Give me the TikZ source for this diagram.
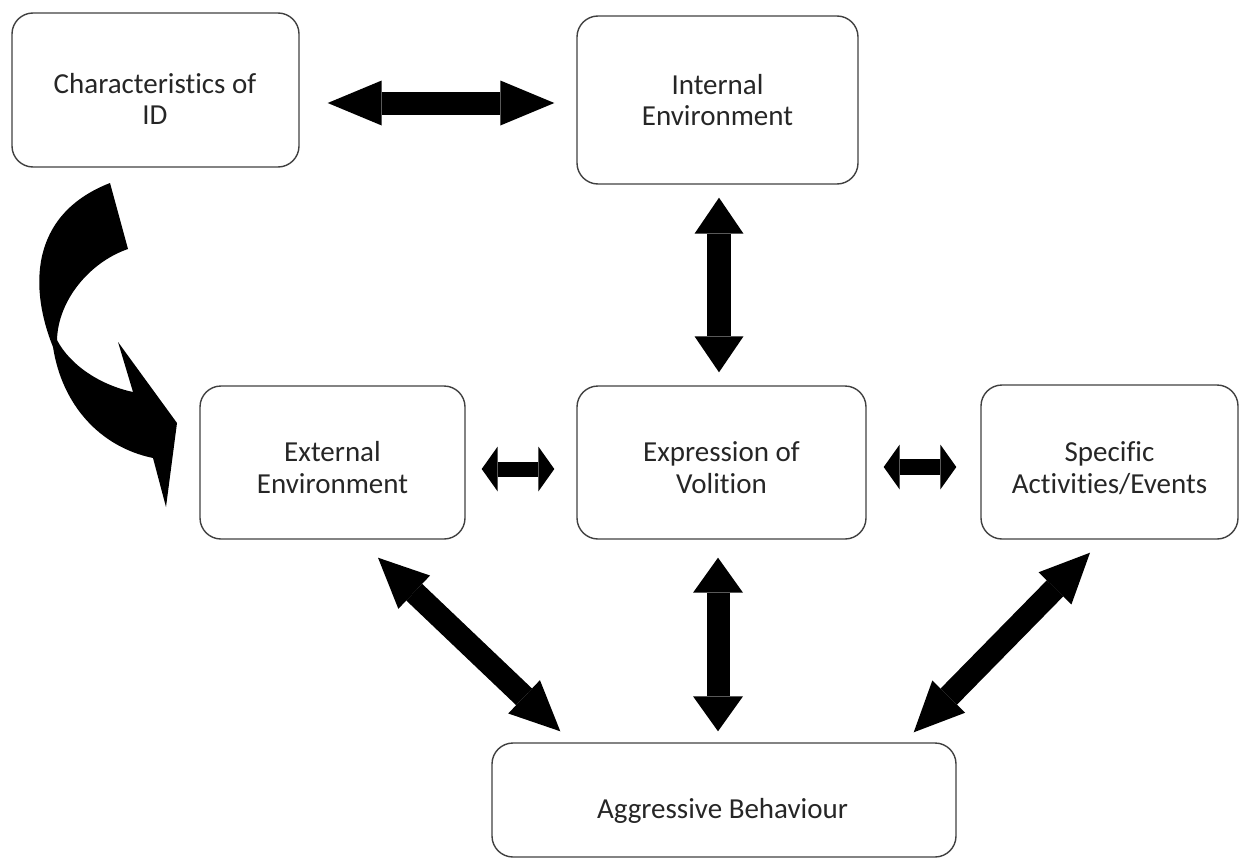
\documentclass[tikz,border=0pt]{standalone}
\usepackage{fontspec}
\setmainfont{Carlito}[Ligatures=NoCommon]
\usetikzlibrary{arrows.meta,calc}

\tikzset{
  box/.style={draw=black!75, line width=1.4pt, rounded corners=21pt},
  lbl/.style={align=center, text=black!85, font=\fontsize{29}{31.5}\selectfont},
  twoway/.style n args={3}{line width=#1,
    arrows={Triangle[length=#2,width=#3,line width=0pt]-Triangle[length=#2,width=#3,line width=0pt]}}
}

\begin{document}
\begin{tikzpicture}[x=1pt,y=-1pt]
\useasboundingbox (0,0) rectangle (1239,859);

\node[box, minimum width=287pt, minimum height=154pt] (char) at (155.5,90) {};
\node[lbl] (chartext) at (155,99) {Characteristics of\\ID};

\node[box, minimum width=281pt, minimum height=168pt] (internal) at (717.5,100) {};
\node[lbl] (internaltext) at (717.5,100) {Internal\\Environment};

\node[box, minimum width=265pt, minimum height=153pt] (ext) at (332.5,462.5) {};
\node[lbl] (exttext) at (332.5,467.5) {External\\Environment};

\node[box, minimum width=289pt, minimum height=153pt] (expr) at (721.5,462.5) {};
\node[lbl] (exprtext) at (721.5,467.5) {Expression of\\Volition};

\node[box, minimum width=257pt, minimum height=154pt] (spec) at (1109.5,462) {};
\node[lbl] (spectext) at (1109.5,468) {Specific\\Activities/Events};

\node[box, minimum width=464pt, minimum height=114pt] (aggr) at (724,800) {};
\node[lbl] (aggrtext) at (722.5,811) {Aggressive Behaviour};

\draw[twoway={23pt}{54pt}{45pt}, shorten <=28pt, shorten >=22pt]
  ($(char.east |- internal.west)+(0,3)$) -- ($(internal.west)+(0,3)$);
\draw[twoway={24pt}{36pt}{49pt}, shorten <=13pt, shorten >=13pt]
  ($(internal.south)+(1.5,0)$) -- ($(internal.south |- expr.north)+(1.5,0)$);
\draw[twoway={15pt}{16pt}{45pt}, shorten <=16pt, shorten >=22pt]
  ($(ext.east)+(0,6.5)$) -- ($(expr.west)+(0,6.5)$);
\draw[twoway={16pt}{16pt}{45pt}, shorten <=17pt, shorten >=24pt]
  ($(expr.east)+(0,4.5)$) -- ($(spec.west)+(0,5)$);

\draw[twoway={23pt}{35pt}{50pt}, shorten <=18pt, shorten >=11pt]
  ($(expr.south)+(-3.5,0)$) -- ($(expr.south |- aggr.north)+(-3.5,0)$);
\draw[twoway={23pt}{50pt}{46pt}]
  ($(ext.south)+(45.5,18)$) -- ($(aggr.north west)+(69,-11)$);
\draw[twoway={23pt}{50pt}{46pt}]
  ($(spec.south)+(-19.5,13)$) -- ($(aggr.north east)+(-43,-10)$);

\fill[black] (110,183) -- (128,249) .. controls (90,262) and (58,300) .. (57,340)
  .. controls (70,365) and (100,385) .. (133,392) -- (118,342) -- (177,423)
  -- (166,507) -- (153,458) .. controls (100,447) and (62,405) .. (53,347)
  .. controls (30,290) and (28,215) .. (110,183) -- cycle;
\end{tikzpicture}
\end{document}
